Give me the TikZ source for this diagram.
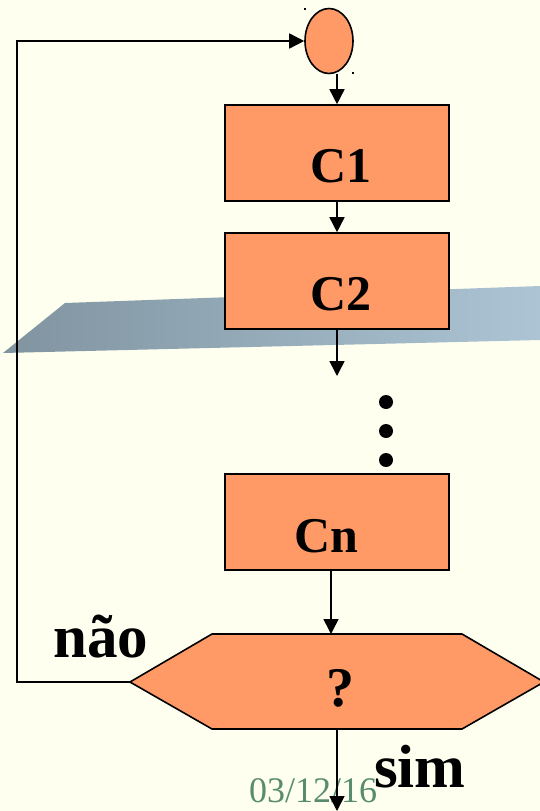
\documentclass[tikz,border=0pt]{standalone}
\usepackage{fontspec}
\setmainfont{Liberation Serif}
\usetikzlibrary{arrows.meta,shapes.geometric}
\definecolor{paper}{RGB}{255,255,240}
\definecolor{boxfill}{RGB}{255,153,102}
\definecolor{bandL}{RGB}{128,148,160}
\definecolor{bandR}{RGB}{172,196,212}
\definecolor{dategreen}{RGB}{88,140,108}
\tikzset{
  flowbox/.style={draw=black, line width=1.6pt, fill=boxfill, rectangle,
    minimum width=224pt, minimum height=96pt, inner sep=0pt},
  boxlabel/.style={font=\fontsize{50}{50}\selectfont\bfseries, inner sep=0pt},
  branchlabel/.style={font=\fontsize{61}{61}\selectfont\bfseries, anchor=base, inner sep=0pt},
  flow/.style={line width=1.6pt, -{Triangle[length=15pt,width=15pt]}},
}
\begin{document}
\begin{tikzpicture}[x=1pt,y=-1pt]
  \useasboundingbox (0,0) rectangle (540,811);
  \fill[paper] (0,0) rectangle (540,811);
  \clip (0,0) rectangle (540,811);

  % slanted grey band behind the second step
  \shade[left color=bandL, right color=bandR]
    (3,353) -- (65,303) -- (540,286) -- (540,340) -- cycle;

  % start point
  \node[draw=black, line width=1.6pt, fill=boxfill, ellipse,
        minimum width=48pt, minimum height=65pt, inner sep=0pt] (start) at (329,41) {};
  \fill (304,8) rectangle (306,10);
  \fill (352,72) rectangle (354,74);

  % steps
  \node[flowbox] (c1) at (337,153) {};
  \node[boxlabel] (c1t) at (341,166) {C1};
  \node[flowbox] (c2) at (337,281) {};
  \node[boxlabel] (c2t) at (341,294) {C2};
  \node[flowbox] (cn) at (337,522) {};
  \node[boxlabel] (cnt) at (326,536) {Cn};

  % ellipsis between C2 and Cn
  \fill (386,402) circle (7);
  \fill (386,431) circle (7);
  \fill (386,460) circle (7);

  % decision
  \draw[line width=1.6pt, fill=boxfill]
    (130,682) -- (212,634) -- (462,634) -- (544,682) -- (462,729) -- (212,729) -- cycle;
  \coordinate (hexW) at (130,682);
  \coordinate (hexN) at (331,634);
  \coordinate (hexS) at (337,729);
  \node[font=\fontsize{56}{56}\selectfont\bfseries, inner sep=0pt] (q) at (340,688) {?};

  % date
  \node[text=dategreen, font=\fontsize{36}{36}\selectfont, anchor=base, inner sep=0pt]
    (date) at (313,802) {03/12/16};

  % connectors
  \coordinate (c2out) at (337,376);
  \coordinate (cnout) at (331,570);
  \coordinate (endpt) at (337,811);
  \coordinate (loopA) at (17,682);
  \coordinate (loopB) at (17,41);
  \draw[flow] (c1.north |- start.south) -- (c1.north);
  \draw[flow] (c1.south) -- (c2.north);
  \draw[flow] (c2.south) -- (c2out);
  \draw[flow] (cnout) -- (hexN);
  \draw[flow] (hexS) -- (endpt);
  \draw[flow] (hexW) -- (loopA) -- (loopB) -- (start.west);

  % branch labels
  \node[branchlabel] (nao) at (101,657) {não};
  \node[branchlabel] (sim) at (420,787) {sim};
\end{tikzpicture}
\end{document}
